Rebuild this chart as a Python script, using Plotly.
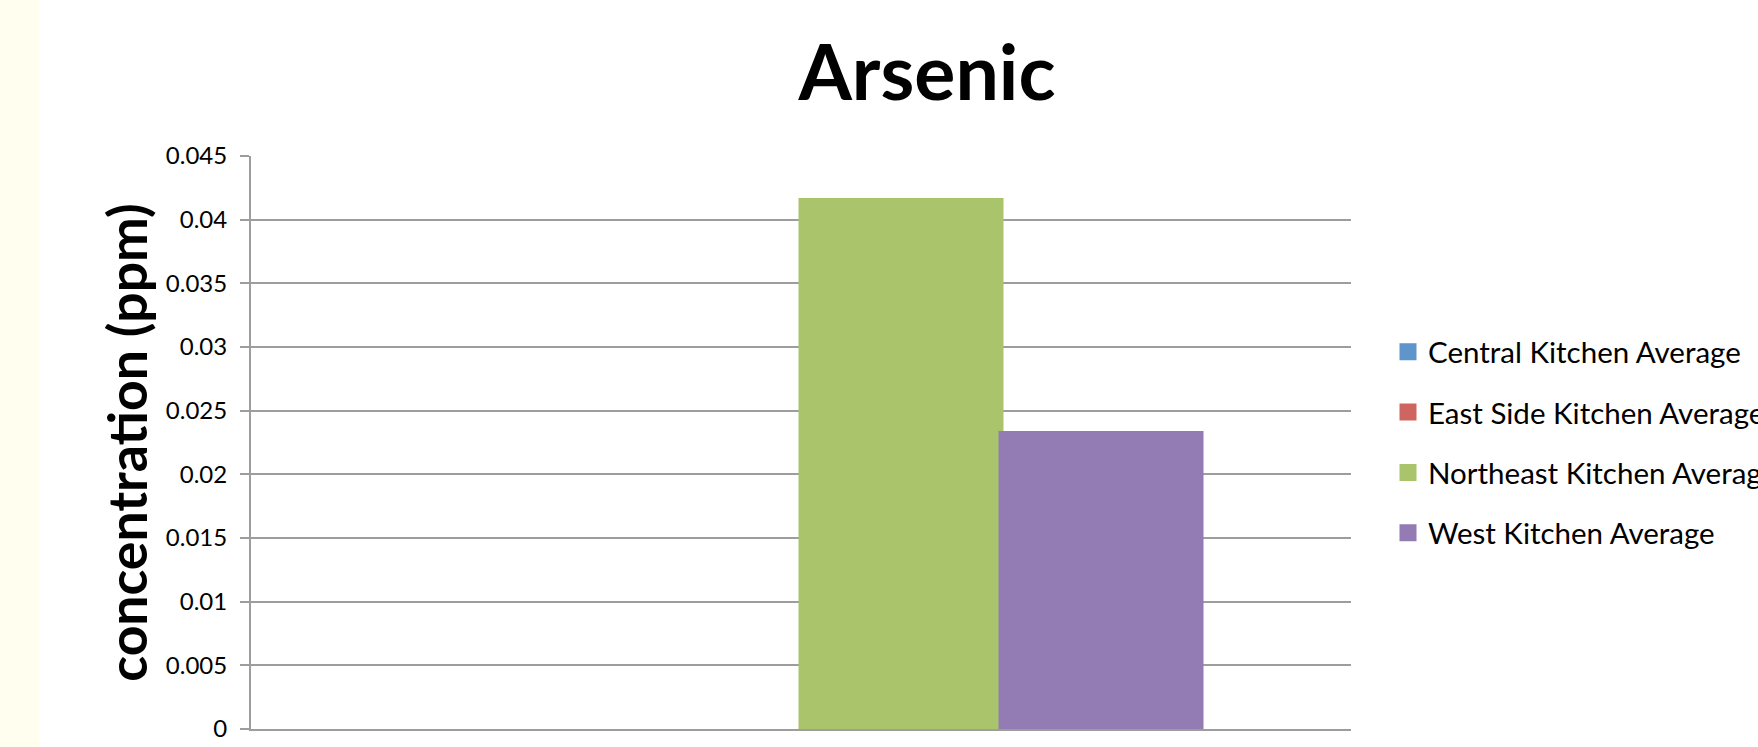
import plotly.graph_objects as go

categories = ["Arsenic"]
series_names = ["Central Kitchen Average", "East Side Kitchen Average",
                "Northeast Kitchen Average", "West Kitchen Average"]
series_values = [[None], [None], [0.0415], [0.0232]]
series_colors = ["#5E95CB", "#CF6561", "#A9C46B", "#937BB3"]
y_ticks = [0, 0.005, 0.01, 0.015, 0.02, 0.025, 0.03, 0.035, 0.04, 0.045]
y_ticktext = ["0", "0.005", "0.01", "0.015", "0.02", "0.025", "0.03", "0.035", "0.04", "0.045"]

W, H = 1758, 747
ML, MR, MT, MB = 251, 407, 156, 18
PW = W - ML - MR

fig = go.Figure()
for name, vals, col in zip(series_names, series_values, series_colors):
    fig.add_trace(go.Bar(x=categories, y=vals, name=name, legendgroup=name,
                         marker=dict(color=col, line=dict(width=5, color=col))))

grid = "#9D9D9D"
fig.update_layout(
    width=W, height=H,
    margin=dict(l=ML, r=MR, t=MT, b=MB, pad=0, autoexpand=False),
    paper_bgcolor="white", plot_bgcolor="white",
    barmode="group", bargap=1.5/5.5, bargroupgap=0,
    font=dict(family="Lato", color="black"),
    title=dict(text="<b>Arsenic</b>", font=dict(family="Lato", size=77, color="black"),
               x=927/W, xref="container", xanchor="center",
               y=1-73/H, yref="container", yanchor="middle"),
    legend=dict(x=(1388-ML)/PW, xanchor="left", y=0.5, yanchor="middle",
                font=dict(family="Lato", size=29.5, color="black"),
                traceorder="grouped", tracegroupgap=19, bgcolor="rgba(0,0,0,0)"),
    xaxis=dict(showticklabels=False, showgrid=False, showline=True, linecolor=grid,
               linewidth=2, ticks="", zeroline=False),
    yaxis=dict(range=[0, 0.045], tickvals=y_ticks, ticktext=y_ticktext,
               showgrid=True, gridcolor=grid, gridwidth=2,
               showline=True, linecolor=grid, linewidth=2,
               ticks="outside", ticklen=9, tickwidth=2, tickcolor=grid,
               ticklabelstandoff=8, zeroline=False,
               tickfont=dict(family="Lato", size=24, color="black"),
               title=dict(text="<b>concentration (ppm)</b>", standoff=1,
                          font=dict(family="Lato", size=53.5, color="black"))),
    shapes=[dict(type="rect", xref="paper", yref="paper",
                 x0=-ML/PW, x1=(39-ML)/PW, y0=-MB/(H-MT-MB), y1=1+MT/(H-MT-MB),
                 fillcolor="#FFFEEF", line=dict(width=0), layer="below")],
)

fig.write_html("out.html")
